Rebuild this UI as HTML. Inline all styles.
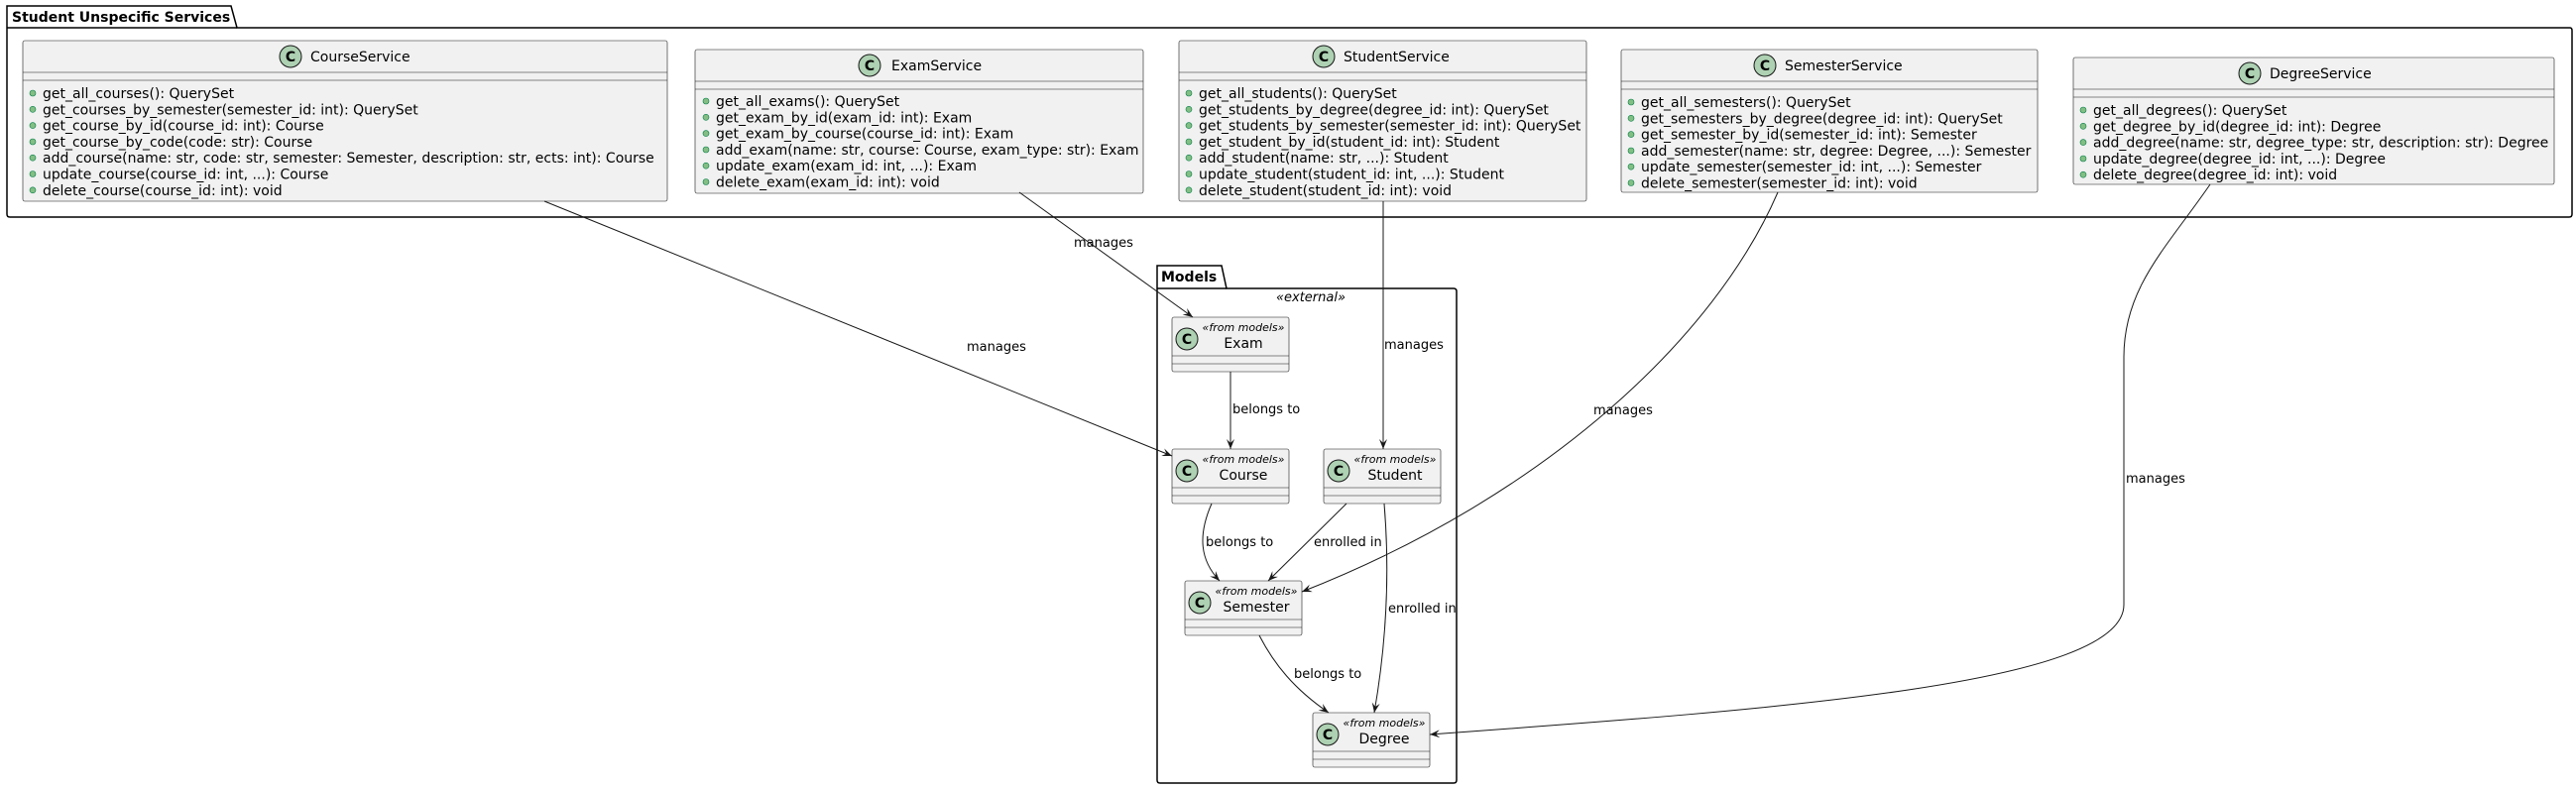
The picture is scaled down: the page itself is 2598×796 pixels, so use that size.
<!DOCTYPE html>
<html><head><meta charset="utf-8"><style>
html,body{margin:0;padding:0;background:#fff;}
svg{display:block;font-family:"DejaVu Sans","Liberation Sans",sans-serif;}
.box{fill:#F1F1F1;stroke:#181818;stroke-width:0.6;}
.sep{stroke:#181818;stroke-width:0.6;}
.m{font-size:14px;fill:#000;}
.t{font-size:14px;fill:#000;}
.st{font-size:11px;font-style:italic;fill:#000;}
.lbl{font-size:13px;fill:#000;}
.e{fill:none;stroke:#181818;stroke-width:1;}
.dot{fill:#84BE84;stroke:#038048;stroke-width:0.6;}
.ic{fill:#ADD1B2;stroke:#181818;stroke-width:1;}
.ict{font-size:14px;font-weight:bold;fill:#000;}
</style></head><body>
<svg width="2598" height="796" viewBox="0 0 2598 796">
<defs><marker id="a" markerWidth="12" markerHeight="10" refX="10" refY="4" orient="auto" markerUnits="userSpaceOnUse"><path d="M0,0 L10,4 L0,8 L4,4 z" fill="#181818"/></marker></defs>

<path d="M7,28 L7,6 L233,6 L239,28 L2592,28 Q2594,28 2594,31 L2594,216 Q2594,219 2591,219 L10,219 Q7,219 7,216 Z" fill="none" stroke="#000" stroke-width="1.5"/>
<line x1="7" y1="28" x2="239" y2="28" stroke="#000" stroke-width="1.5"/>
<text x="12" y="22" font-size="14" font-weight="bold">Student Unspecific Services</text>

<!-- CourseService -->
<rect class="box" x="23" y="41" width="650" height="162" rx="2"/>
<line class="sep" x1="23" y1="73" x2="673" y2="73"/><line class="sep" x1="23" y1="81" x2="673" y2="81"/>
<circle class="ic" cx="293" cy="57" r="11"/><text class="ict" x="293" y="62" text-anchor="middle">C</text>
<text class="t" x="313" y="62">CourseService</text>
<g class="m">
<circle class="dot" cx="33" cy="94" r="3"/><text x="43" y="99">get_all_courses(): QuerySet</text>
<circle class="dot" cx="33" cy="110.3" r="3"/><text x="43" y="115.3">get_courses_by_semester(semester_id: int): QuerySet</text>
<circle class="dot" cx="33" cy="126.6" r="3"/><text x="43" y="131.6">get_course_by_id(course_id: int): Course</text>
<circle class="dot" cx="33" cy="143" r="3"/><text x="43" y="148">get_course_by_code(code: str): Course</text>
<circle class="dot" cx="33" cy="159.2" r="3"/><text x="43" y="164.2">add_course(name: str, code: str, semester: Semester, description: str, ects: int): Course</text>
<circle class="dot" cx="33" cy="175.5" r="3"/><text x="43" y="180.5">update_course(course_id: int, ...): Course</text>
<circle class="dot" cx="33" cy="191.8" r="3"/><text x="43" y="196.8">delete_course(course_id: int): void</text>
</g>

<!-- ExamService -->
<rect class="box" x="701" y="50" width="452" height="145" rx="2"/>
<line class="sep" x1="701" y1="82" x2="1153" y2="82"/><line class="sep" x1="701" y1="90" x2="1153" y2="90"/>
<circle class="ic" cx="877" cy="66" r="11"/><text class="ict" x="877" y="71" text-anchor="middle">C</text>
<text class="t" x="899" y="71">ExamService</text>
<g class="m">
<circle class="dot" cx="712" cy="102" r="3"/><text x="722" y="107">get_all_exams(): QuerySet</text>
<circle class="dot" cx="712" cy="118.3" r="3"/><text x="722" y="123.3">get_exam_by_id(exam_id: int): Exam</text>
<circle class="dot" cx="712" cy="134.6" r="3"/><text x="722" y="139.6">get_exam_by_course(course_id: int): Exam</text>
<circle class="dot" cx="712" cy="151" r="3"/><text x="722" y="156">add_exam(name: str, course: Course, exam_type: str): Exam</text>
<circle class="dot" cx="712" cy="167.2" r="3"/><text x="722" y="172.2">update_exam(exam_id: int, ...): Exam</text>
<circle class="dot" cx="712" cy="183.5" r="3"/><text x="722" y="188.5">delete_exam(exam_id: int): void</text>
</g>

<!-- StudentService -->
<rect class="box" x="1189" y="41" width="411" height="162" rx="2"/>
<line class="sep" x1="1189" y1="73" x2="1600" y2="73"/><line class="sep" x1="1189" y1="81" x2="1600" y2="81"/>
<circle class="ic" cx="1335" cy="57" r="11"/><text class="ict" x="1335" y="62" text-anchor="middle">C</text>
<text class="t" x="1355" y="62">StudentService</text>
<g class="m">
<circle class="dot" cx="1199" cy="94" r="3"/><text x="1209" y="99">get_all_students(): QuerySet</text>
<circle class="dot" cx="1199" cy="110.3" r="3"/><text x="1209" y="115.3">get_students_by_degree(degree_id: int): QuerySet</text>
<circle class="dot" cx="1199" cy="126.6" r="3"/><text x="1209" y="131.6">get_students_by_semester(semester_id: int): QuerySet</text>
<circle class="dot" cx="1199" cy="143" r="3"/><text x="1209" y="148">get_student_by_id(student_id: int): Student</text>
<circle class="dot" cx="1199" cy="159.2" r="3"/><text x="1209" y="164.2">add_student(name: str, ...): Student</text>
<circle class="dot" cx="1199" cy="175.5" r="3"/><text x="1209" y="180.5">update_student(student_id: int, ...): Student</text>
<circle class="dot" cx="1199" cy="191.8" r="3"/><text x="1209" y="196.8">delete_student(student_id: int): void</text>
</g>

<!-- SemesterService -->
<rect class="box" x="1635" y="50" width="420" height="144" rx="2"/>
<line class="sep" x1="1635" y1="82" x2="2055" y2="82"/><line class="sep" x1="1635" y1="90" x2="2055" y2="90"/>
<circle class="ic" cx="1780" cy="66" r="11"/><text class="ict" x="1780" y="71" text-anchor="middle">C</text>
<text class="t" x="1800" y="71">SemesterService</text>
<g class="m">
<circle class="dot" cx="1645" cy="103" r="3"/><text x="1655" y="108">get_all_semesters(): QuerySet</text>
<circle class="dot" cx="1645" cy="119.3" r="3"/><text x="1655" y="124.3">get_semesters_by_degree(degree_id: int): QuerySet</text>
<circle class="dot" cx="1645" cy="135.6" r="3"/><text x="1655" y="140.6">get_semester_by_id(semester_id: int): Semester</text>
<circle class="dot" cx="1645" cy="152" r="3"/><text x="1655" y="157">add_semester(name: str, degree: Degree, ...): Semester</text>
<circle class="dot" cx="1645" cy="168.2" r="3"/><text x="1655" y="173.2">update_semester(semester_id: int, ...): Semester</text>
<circle class="dot" cx="1645" cy="184.5" r="3"/><text x="1655" y="189.5">delete_semester(semester_id: int): void</text>
</g>

<!-- DegreeService -->
<rect class="box" x="2091" y="58" width="485" height="128" rx="2"/>
<line class="sep" x1="2091" y1="90" x2="2576" y2="90"/><line class="sep" x1="2091" y1="98" x2="2576" y2="98"/>
<circle class="ic" cx="2269" cy="74" r="11"/><text class="ict" x="2269" y="79" text-anchor="middle">C</text>
<text class="t" x="2289" y="79">DegreeService</text>
<g class="m">
<circle class="dot" cx="2101" cy="111" r="3"/><text x="2111" y="116">get_all_degrees(): QuerySet</text>
<circle class="dot" cx="2101" cy="127.3" r="3"/><text x="2111" y="132.3">get_degree_by_id(degree_id: int): Degree</text>
<circle class="dot" cx="2101" cy="143.6" r="3"/><text x="2111" y="148.6">add_degree(name: str, degree_type: str, description: str): Degree</text>
<circle class="dot" cx="2101" cy="160" r="3"/><text x="2111" y="165">update_degree(degree_id: int, ...): Degree</text>
<circle class="dot" cx="2101" cy="176.2" r="3"/><text x="2111" y="181.2">delete_degree(degree_id: int): void</text>
</g>

<!-- Models package -->
<path d="M1167,291 L1167,268 L1232,268 L1237,291 L1466,291 Q1469,291 1469,294 L1469,787 Q1469,790 1466,790 L1170,790 Q1167,790 1167,787 Z" fill="none" stroke="#000" stroke-width="1.5"/>
<line x1="1167" y1="291" x2="1237" y2="291" stroke="#000" stroke-width="1.5"/>
<text x="1171" y="284" font-size="14" font-weight="bold">Models</text>
<text x="1322" y="304" font-size="13" font-style="italic" text-anchor="middle">«external»</text>

<g>
<rect class="box" x="1182" y="320" width="118" height="55" rx="2"/>
<line class="sep" x1="1182" y1="359" x2="1300" y2="359"/><line class="sep" x1="1182" y1="367" x2="1300" y2="367"/>
<circle class="ic" cx="1197" cy="342" r="11"/><text class="ict" x="1197" y="347" text-anchor="middle">C</text>
<text class="st" x="1254" y="334" text-anchor="middle">«from models»</text>
<text class="t" x="1254" y="351" text-anchor="middle">Exam</text>

<rect class="box" x="1182" y="453" width="118" height="55" rx="2"/>
<line class="sep" x1="1182" y1="492" x2="1300" y2="492"/><line class="sep" x1="1182" y1="500" x2="1300" y2="500"/>
<circle class="ic" cx="1197" cy="475" r="11"/><text class="ict" x="1197" y="480" text-anchor="middle">C</text>
<text class="st" x="1254" y="467" text-anchor="middle">«from models»</text>
<text class="t" x="1254" y="484" text-anchor="middle">Course</text>

<rect class="box" x="1335" y="453" width="118" height="55" rx="2"/>
<line class="sep" x1="1335" y1="492" x2="1453" y2="492"/><line class="sep" x1="1335" y1="500" x2="1453" y2="500"/>
<circle class="ic" cx="1350" cy="475" r="11"/><text class="ict" x="1350" y="480" text-anchor="middle">C</text>
<text class="st" x="1407" y="467" text-anchor="middle">«from models»</text>
<text class="t" x="1407" y="484" text-anchor="middle">Student</text>

<rect class="box" x="1195" y="586" width="118" height="55" rx="2"/>
<line class="sep" x1="1195" y1="625" x2="1313" y2="625"/><line class="sep" x1="1195" y1="633" x2="1313" y2="633"/>
<circle class="ic" cx="1210" cy="608" r="11"/><text class="ict" x="1210" y="613" text-anchor="middle">C</text>
<text class="st" x="1267" y="600" text-anchor="middle">«from models»</text>
<text class="t" x="1267" y="617" text-anchor="middle">Semester</text>

<rect class="box" x="1324" y="719" width="118" height="55" rx="2"/>
<line class="sep" x1="1324" y1="758" x2="1442" y2="758"/><line class="sep" x1="1324" y1="766" x2="1442" y2="766"/>
<circle class="ic" cx="1339" cy="741" r="11"/><text class="ict" x="1339" y="746" text-anchor="middle">C</text>
<text class="st" x="1396" y="733" text-anchor="middle">«from models»</text>
<text class="t" x="1396" y="750" text-anchor="middle">Degree</text>
</g>

<!-- edges -->
<path class="e" marker-end="url(#a)" d="M549,203 L1182,460"/>
<text class="lbl" x="975" y="354">manages</text>
<path class="e" marker-end="url(#a)" d="M1028,194 L1203,320"/>
<text class="lbl" x="1083" y="249">manages</text>
<path class="e" marker-end="url(#a)" d="M1395,203 L1395,453"/>
<text class="lbl" x="1396" y="352">manages</text>
<path class="e" marker-end="url(#a)" d="M1793,194 C1730,340 1560,500 1313,597"/>
<text class="lbl" x="1607" y="418">manages</text>
<path class="e" marker-end="url(#a)" d="M2229,186 C2185,250 2142,290 2142,360 L2142,610 C2142,690 1800,715 1442,741"/>
<text class="lbl" x="2144" y="487">manages</text>
<path class="e" marker-end="url(#a)" d="M1241,375 L1241,453"/>
<text class="lbl" x="1243" y="417">belongs to</text>
<path class="e" marker-end="url(#a)" d="M1222,508 C1208,540 1210,565 1230,586"/>
<text class="lbl" x="1216" y="551">belongs to</text>
<path class="e" marker-end="url(#a)" d="M1358,508 L1279,586"/>
<text class="lbl" x="1325" y="551">enrolled in</text>
<path class="e" marker-end="url(#a)" d="M1396,508 C1402,580 1398,650 1386,719"/>
<text class="lbl" x="1400" y="618">enrolled in</text>
<path class="e" marker-end="url(#a)" d="M1270,641 C1285,670 1305,695 1340,719"/>
<text class="lbl" x="1305" y="684">belongs to</text>
</svg>
</body></html>
